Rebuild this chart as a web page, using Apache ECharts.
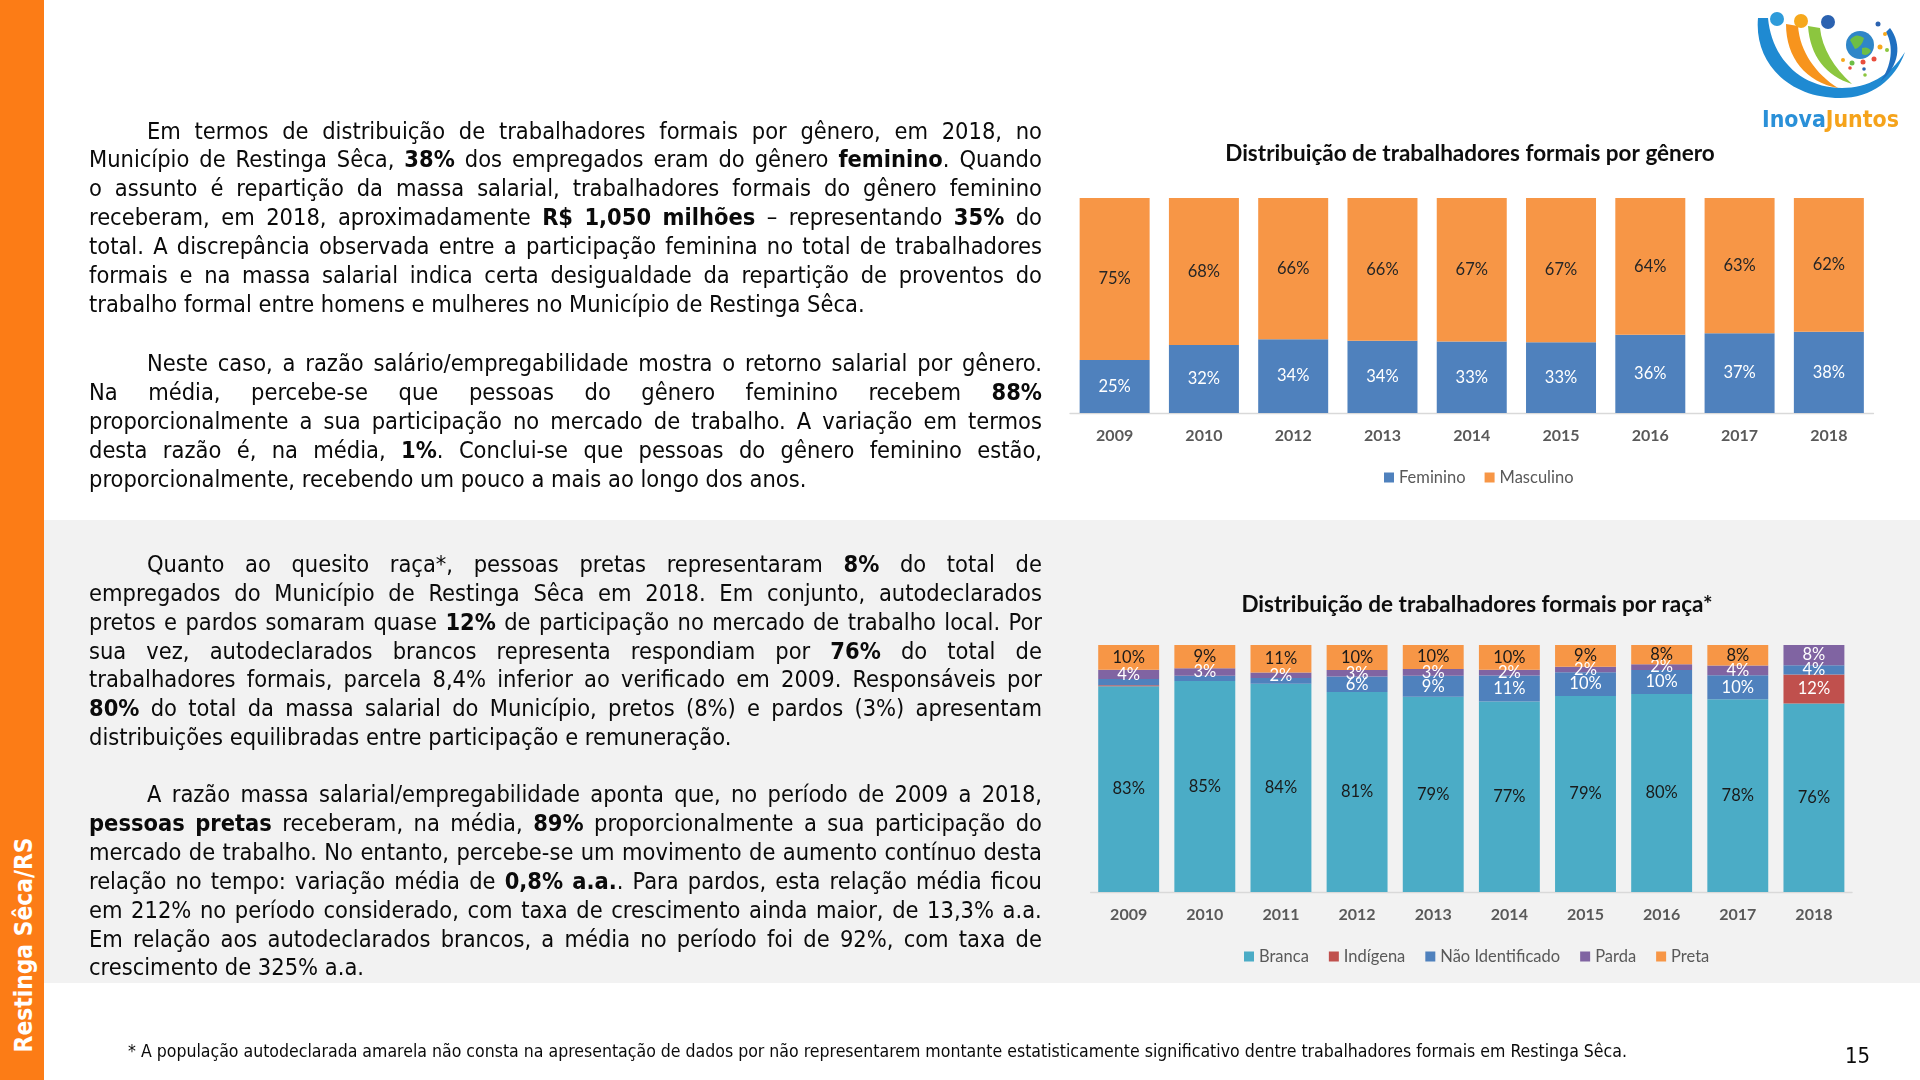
<!DOCTYPE html>
<html>
<head>
<meta charset="utf-8">
<script src="https://cdn.jsdelivr.net/npm/echarts@6/dist/echarts.min.js"></script>
<style>
  html, body { margin:0; padding:0; }
  body { width:1920px; height:1080px; position:relative; overflow:hidden; background:#ffffff; }
  .abs { position:absolute; }
  .txt { font-family:"DejaVu Sans Condensed","DejaVu Sans",sans-serif; color:#0a0a0a; }
  .line { position:absolute; display:flex; justify-content:space-between; align-items:center; white-space:pre; }
  .lastline { position:absolute; white-space:pre; }
</style>
</head>
<body>
<div class="abs" style="left:44px;top:520px;width:1876px;height:463px;background:#F2F2F2"></div>
<div class="abs" style="left:0;top:0;width:44px;height:1080px;background:#FC7C16"></div>
<div id="vtext" class="abs txt" style="left:23px;top:945px;transform:translate(-50%,-50%) rotate(-90deg);color:#fff;font-weight:bold;font-size:22px;white-space:nowrap;">Restinga Sêca/RS</div>
<div id="chart" class="abs" style="left:0;top:0;width:1920px;height:1080px;"></div>
<div id="textlayer" class="abs" style="left:0;top:0;width:1920px;height:1080px;pointer-events:none;"></div>

<svg class="abs" style="left:1740px;top:0" width="180" height="140" viewBox="0 0 180 140">
  <path d="M18,18 C14,62 48,98 100,98 C132,98 155,80 165,52 C150,76 128,88 102,88 C62,88 32,60 28,18 Z" fill="#1F8AD2"/>
  <path d="M46,24 C46,58 66,82 98,88 C76,74 60,52 58,26 Z" fill="#F7941D"/>
  <path d="M68,26 C70,56 86,76 112,84 C94,68 82,48 80,28 Z" fill="#8CC63F"/>
  <path d="M150,28 C162,44 160,66 140,82 C152,66 154,46 146,32 Z" fill="#1F6FC0"/>
  <circle cx="37" cy="19" r="7" fill="#2E9BDA"/>
  <circle cx="61" cy="21" r="7" fill="#F6A81C"/>
  <circle cx="88" cy="22" r="7" fill="#2B62B0"/>
  <circle cx="120" cy="45" r="14" fill="#2F86C8"/>
  <path d="M110,40 q6,-8 14,-2 q-2,9 -9,11 z" fill="#6DBE45"/>
  <path d="M122,48 q6,-2 9,3 q-4,6 -9,3 z" fill="#6DBE45"/>
  <circle cx="138" cy="24" r="2.5" fill="#2B62B0"/>
  <circle cx="145" cy="34" r="2" fill="#F6A81C"/>
  <circle cx="140" cy="47" r="2.5" fill="#F6A81C"/>
  <circle cx="147" cy="50" r="2" fill="#8CC63F"/>
  <circle cx="103" cy="60" r="2" fill="#F6A81C"/>
  <circle cx="112" cy="63" r="2.5" fill="#6DBE45"/>
  <circle cx="123" cy="62" r="2.5" fill="#E94E3D"/>
  <circle cx="134" cy="59" r="2.5" fill="#E94E3D"/>
  <circle cx="110" cy="68" r="1.8" fill="#E94E3D"/>
  <circle cx="124" cy="69" r="1.8" fill="#2B62B0"/>
  <circle cx="125" cy="75" r="1.8" fill="#8CC63F"/>
  <text x="22" y="127" font-family="DejaVu Sans" font-weight="bold" font-size="23" textLength="137" lengthAdjust="spacingAndGlyphs"><tspan fill="#2A90D8">Inova</tspan><tspan fill="#F5A31B">Juntos</tspan></text>
</svg>

<div id="foot" class="abs txt" style="left:128px;top:1039px;font-size:16px;white-space:pre;line-height:24px;">* A população autodeclarada amarela não consta na apresentação de dados por não representarem montante estatisticamente significativo dentre trabalhadores formais em Restinga Sêca.</div>
<div id="pnum" class="abs txt" style="left:1845px;top:1042px;font-size:22px;line-height:28px;white-space:pre;">15</div>

<script>
// ---------------- DATA ----------------
const genderYears = ['2009','2010','2012','2013','2014','2015','2016','2017','2018'];
const feminino   = [24.7, 31.6, 34.3, 33.6, 33.3, 32.9, 36.4, 37.1, 37.8];
const masculino  = [75.3, 68.4, 65.7, 66.4, 66.7, 67.1, 63.6, 62.9, 62.2];

const raceYears = ['2009','2010','2011','2012','2013','2014','2015','2016','2017','2018'];
const branca    = [83.3, 85.4, 84.3, 81.0, 79.0, 77.1, 79.4, 80.2, 78.0, 76.3];
const indigena  = [0.4, 0, 0, 0, 0, 0, 0, 0, 0, 11.8];
const naoIdent  = [2.5, 2.2, 2.3, 6.2, 8.6, 10.6, 9.6, 9.7, 9.8, 3.7];
const parda     = [3.8, 3.0, 2.3, 2.7, 2.7, 2.3, 2.2, 2.3, 3.9, 8.2];
const preta     = [10.0, 9.4, 11.1, 10.1, 9.7, 10.0, 8.8, 7.8, 8.3, 0];

const genderTitle = 'Distribuição de trabalhadores formais por gênero';
const raceTitle = 'Distribuição de trabalhadores formais por raça*';

// ---------------- TEXT ----------------
const paragraphs = [
  { y: 131.0, lines: [
    'Em termos de distribuição de trabalhadores formais por gênero, em 2018, no',
    'Município de Restinga Sêca, **38%** dos empregados eram do gênero **feminino**. Quando',
    'o assunto é repartição da massa salarial, trabalhadores formais do gênero feminino',
    'receberam, em 2018, aproximadamente **R$ 1,050 milhões** – representando **35%** do',
    'total. A discrepância observada entre a participação feminina no total de trabalhadores',
    'formais e na massa salarial indica certa desigualdade da repartição de proventos do',
    'trabalho formal entre homens e mulheres no Município de Restinga Sêca.' ]},
  { y: 363.7, lines: [
    'Neste caso, a razão salário/empregabilidade mostra o retorno salarial por gênero.',
    'Na média, percebe-se que pessoas do gênero feminino recebem **88%**',
    'proporcionalmente a sua participação no mercado de trabalho. A variação em termos',
    'desta razão é, na média, **1%**. Conclui-se que pessoas do gênero feminino estão,',
    'proporcionalmente, recebendo um pouco a mais ao longo dos anos.' ]},
  { y: 564.5, lines: [
    'Quanto ao quesito raça*, pessoas pretas representaram **8%** do total de',
    'empregados do Município de Restinga Sêca em 2018. Em conjunto, autodeclarados',
    'pretos e pardos somaram quase **12%** de participação no mercado de trabalho local. Por',
    'sua vez, autodeclarados brancos representa respondiam por **76%** do total de',
    'trabalhadores formais, parcela 8,4% inferior ao verificado em 2009. Responsáveis por',
    '**80%** do total da massa salarial do Município, pretos (8%) e pardos (3%) apresentam',
    'distribuições equilibradas entre participação e remuneração.' ]},
  { y: 794.7, lines: [
    'A razão massa salarial/empregabilidade aponta que, no período de 2009 a 2018,',
    '**pessoas pretas** receberam, na média, **89%** proporcionalmente a sua participação do',
    'mercado de trabalho. No entanto, percebe-se um movimento de aumento contínuo desta',
    'relação no tempo: variação média de **0,8% a.a.**. Para pardos, esta relação média ficou',
    'em 212% no período considerado, com taxa de crescimento ainda maior, de 13,3% a.a.',
    'Em relação aos autodeclarados brancos, a média no período foi de 92%, com taxa de',
    'crescimento de 325% a.a.' ]}
];

function parseLine(s) {
  const words = []; let bold = false; let cur = []; let buf = ''; let i = 0;
  const flush = () => { if (buf) { cur.push({ t: buf, b: bold }); buf = ''; } };
  while (i < s.length) {
    if (s.startsWith('**', i)) { flush(); bold = !bold; i += 2; continue; }
    const c = s[i];
    if (c === ' ') { flush(); if (cur.length) { words.push(cur); cur = []; } i++; continue; }
    buf += c; i++;
  }
  flush(); if (cur.length) words.push(cur);
  return words;
}
function wordHTML(w) {
  return w.map(seg => seg.b ? '<b>' + seg.t + '</b>' : seg.t).join('');
}

const layer = document.getElementById('textlayer');
const meas = document.createElement('span');
meas.className = 'txt';
meas.style.cssText = 'position:absolute;visibility:hidden;white-space:pre;font-size:21px;';
meas.textContent = paragraphs[0].lines[6];
document.body.appendChild(meas);
let fs = 21 * 776 / meas.getBoundingClientRect().width;
fs = Math.max(17, Math.min(24, fs));
meas.remove();

const LH = 28.85, LEFT = 89, WIDTH = 953, INDENT = 58;
paragraphs.forEach(p => {
  p.lines.forEach((ln, k) => {
    const words = parseLine(ln);
    const d = document.createElement('div');
    const isLast = k === p.lines.length - 1;
    d.className = (isLast ? 'lastline' : 'line') + ' txt';
    const left = LEFT + (k === 0 ? INDENT : 0);
    d.style.left = left + 'px';
    d.style.top = (p.y + k * LH - LH / 2) + 'px';
    d.style.height = LH + 'px';
    d.style.lineHeight = LH + 'px';
    d.style.fontSize = fs + 'px';
    if (isLast) {
      d.innerHTML = words.map(wordHTML).join(' ');
    } else {
      d.style.width = (WIDTH - (k === 0 ? INDENT : 0)) + 'px';
      d.innerHTML = words.map(w => '<span>' + wordHTML(w) + '</span>').join('');
    }
    layer.appendChild(d);
  });
});
(function () {
  const f = document.getElementById('foot');
  const w = f.getBoundingClientRect().width;
  f.style.fontSize = (16 * 1500 / w) + 'px';
  const v = document.getElementById('vtext');
  const vw = v.getBoundingClientRect().height;
  v.style.fontSize = (22 * 215 / vw) + 'px';
})();

// ---------------- CHART ----------------
const FONT = 'Lato, "Open Sans", sans-serif';
const chart = echarts.init(document.getElementById('chart'), null, { renderer: 'canvas' });

const labelRule = { 'Branca': 0, 'Indígena': 1, 'Não Identificado': 3, 'Parda': 1, 'Preta': 1 };
function raceSeries(name, data, color, labelColor) {
  return {
    name: name, type: 'bar', stack: 'race', xAxisIndex: 1, yAxisIndex: 1,
    data: data, barCategoryGap: '20%',
    itemStyle: { color: color },
    label: {
      show: true, position: 'inside', color: labelColor, fontFamily: FONT, fontSize: 16.5,
      textBorderWidth: 0,
      formatter: p => (p.value > 0 && p.value >= labelRule[name]) ? Math.round(p.value) + '%' : ''
    },
    emphasis: { disabled: true }
  };
}
function genderSeries(name, data, color, labelColor) {
  return {
    name: name, type: 'bar', stack: 'gender', xAxisIndex: 0, yAxisIndex: 0,
    data: data, barCategoryGap: '21.6%',
    itemStyle: { color: color },
    label: {
      show: true, position: 'inside', color: labelColor, fontFamily: FONT, fontSize: 16.5,
      textBorderWidth: 0,
      formatter: p => Math.round(p.value) + '%'
    },
    emphasis: { disabled: true }
  };
}

const axisLabelStyle = { fontFamily: FONT, fontSize: 16, fontWeight: 'bold', color: '#595959', margin: 15 };
const legendText = { fontFamily: FONT, fontSize: 16.5, color: '#595959' };

chart.setOption({
  backgroundColor: 'transparent',
  animation: false,
  title: [
    { text: genderTitle, left: 1465, top: 137, textAlign: 'center',
      textStyle: { fontFamily: FONT, fontWeight: 'bold', fontSize: 22.5, color: '#0d0d0d' } },
    { text: raceTitle, left: 1472, top: 588, textAlign: 'center',
      textStyle: { fontFamily: FONT, fontWeight: 'bold', fontSize: 22.5, color: '#0d0d0d' } }
  ],
  legend: [
    { data: ['Feminino', 'Masculino'], left: 1379, top: 464, icon: 'rect', itemWidth: 10, itemHeight: 10,
      itemGap: 19, textStyle: legendText, selectedMode: false },
    { data: ['Branca', 'Indígena', 'Não Identificado', 'Parda', 'Preta'], left: 1239, top: 943, icon: 'rect',
      itemWidth: 10, itemHeight: 10, itemGap: 20, textStyle: legendText, selectedMode: false }
  ],
  grid: [
    { left: 1070, right: 46.5, top: 198, bottom: 667, containLabel: false },
    { left: 1090.6, right: 68, top: 645, bottom: 188, containLabel: false }
  ],
  xAxis: [
    { type: 'category', gridIndex: 0, data: genderYears,
      axisLine: { lineStyle: { color: '#D9D9D9', width: 1.3 } }, axisTick: { show: false },
      axisLabel: axisLabelStyle },
    { type: 'category', gridIndex: 1, data: raceYears,
      axisLine: { lineStyle: { color: '#D9D9D9', width: 1.3 } }, axisTick: { show: false },
      axisLabel: axisLabelStyle }
  ],
  yAxis: [
    { type: 'value', gridIndex: 0, min: 0, max: 100, show: false, splitLine: { show: false } },
    { type: 'value', gridIndex: 1, min: 0, max: 100, show: false, splitLine: { show: false } }
  ],
  series: [
    genderSeries('Feminino', feminino, '#4F81BD', '#ffffff'),
    genderSeries('Masculino', masculino, '#F79646', '#262626'),
    raceSeries('Branca', branca, '#4BACC6', '#1a1a1a'),
    raceSeries('Indígena', indigena, '#C0504D', '#ffffff'),
    raceSeries('Não Identificado', naoIdent, '#4F81BD', '#ffffff'),
    raceSeries('Parda', parda, '#8064A2', '#ffffff'),
    raceSeries('Preta', preta, '#F79646', '#1a1a1a')
  ]
});
</script>
</body>
</html>
